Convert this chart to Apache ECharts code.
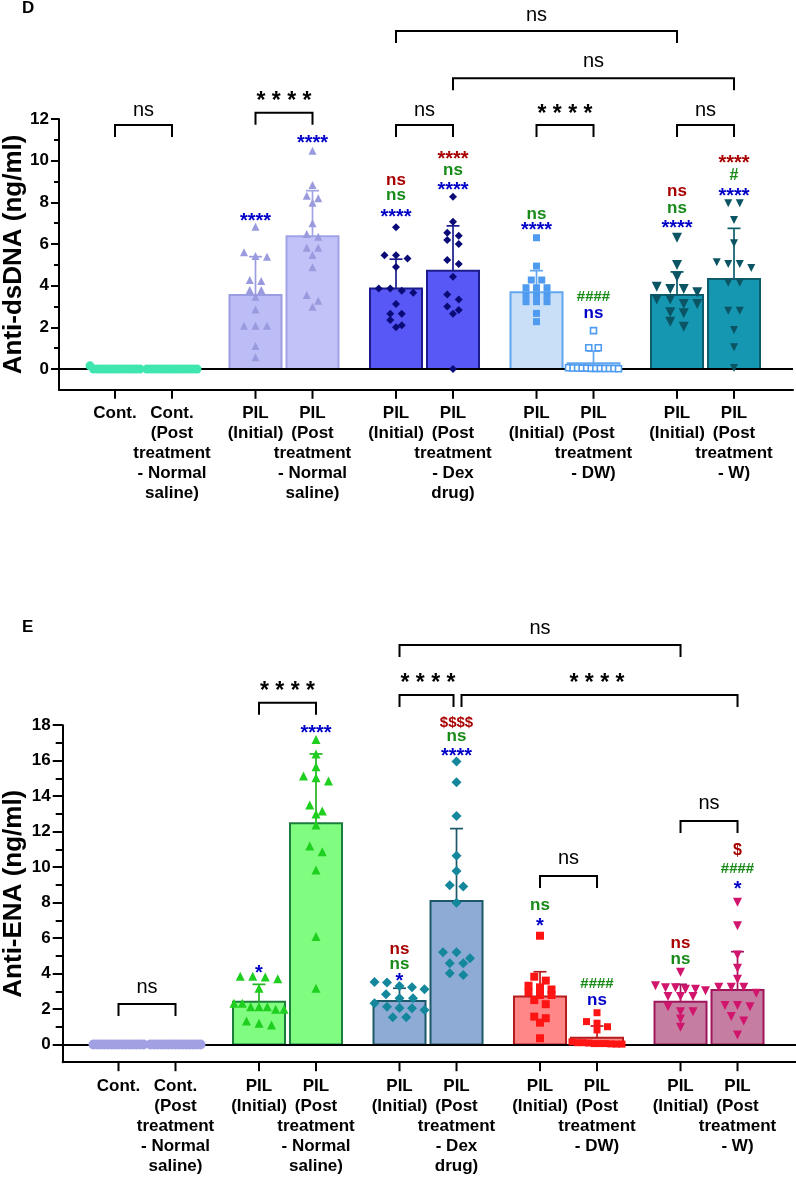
<!DOCTYPE html>
<html><head><meta charset="utf-8">
<script src="https://cdn.jsdelivr.net/npm/echarts@6/dist/echarts.min.js"></script>
<style>html,body{margin:0;padding:0;background:#fff}#c{width:796px;height:1178px}</style>
</head><body><div id="c"></div><script>
// ---------- DATA ----------
const categories = ['Cont.', 'Cont.\n(Post\ntreatment\n- Normal\nsaline)', 'PIL\n(Initial)', 'PIL\n(Post\ntreatment\n- Normal\nsaline)', 'PIL\n(Initial)', 'PIL\n(Post\ntreatment\n- Dex\ndrug)', 'PIL\n(Initial)', 'PIL\n(Post\ntreatment\n- DW)', 'PIL\n(Initial)', 'PIL\n(Post\ntreatment\n- W)'];

// Panel D: Anti-dsDNA
const dsdnaTicks = [0, 2, 4, 6, 8, 10, 12];
const dsdnaMinorTicks = [1, 3, 5, 7, 9, 11];
const dsdnaMean = [0, 0, 3.55, 6.37, 3.86, 4.72, 3.68, 0.27, 3.55, 4.32];
const dsdnaSD = [0, 0, 1.84, 2.19, 1.41, 2.15, 1.04, 0.59, 1.11, 2.43];
const dsdnaPoints = [
  [0.15, 0, 0, 0, 0, 0, 0, 0, 0, 0, 0, 0, 0, 0, 0],
  [0, 0, 0, 0, 0, 0, 0, 0, 0, 0, 0, 0, 0, 0, 0],
  [6.83, 5.6, 5.42, 5.39, 4.27, 4.22, 3.79, 3.79, 3.47, 2.86, 2.08, 2.08, 2.08, 1.10, 0.56],
  [10.48, 8.83, 8.32, 8.19, 7.98, 6.99, 6.48, 6.35, 5.82, 5.82, 5.47, 4.88, 3.55, 3.28, 2.99],
  [6.80, 5.46, 5.46, 5.3, 4.9, 3.86, 3.86, 3.75, 3.66, 3.12, 2.65, 2.65, 2.35, 2.10, 2.0],
  [8.27, 7.07, 6.54, 6.39, 6.19, 6.0, 5.23, 5.04, 4.43, 3.58, 3.34, 3.0, 2.83, 2.65, 0],
  [6.30, 4.94, 4.27, 4.27, 3.90, 3.90, 3.90, 3.55, 3.55, 3.55, 3.23, 3.23, 3.23, 2.67, 2.27],
  [1.84, 1.02, 1.02, 0.06, 0.05, 0.05, 0.04, 0.04, 0.03, 0.03, 0.03, 0.02, 0.02, 0.02, 0.01],
  [6.30, 4.99, 4.43, 3.95, 3.84, 3.84, 3.68, 3.34, 3.34, 3.12, 3.12, 2.72, 2.67, 2.27, 2.03],
  [7.95, 7.95, 7.15, 6.03, 5.12, 5.04, 5.04, 4.85, 4.14, 4.14, 2.80, 2.80, 1.87, 1.04, 0.05]
];
// per-bar marks: [bar, text, colour, level]
const dsdnaMarks = [
  [2, '****', 'b', 7.31],
  [3, '****', 'b', 11.03],
  [4, 'ns', 'r', 9.07], [4, 'ns', 'g', 8.32], [4, '****', 'b', 7.47],
  [5, '****', 'r', 10.27], [5, 'ns', 'g', 9.55], [5, '****', 'b', 8.79],
  [6, 'ns', 'g', 7.44], [6, '****', 'b', 6.87],
  [7, '####', 'g', 3.44], [7, 'ns', 'b', 2.67],
  [8, 'ns', 'r', 8.51], [8, 'ns', 'g', 7.71], [8, '****', 'b', 6.96],
  [9, '****', 'r', 10.07], [9, '#', 'g', 9.27], [9, '****', 'b', 8.48]
];
// brackets: [left bar, right bar, bracket level, label level, label]
const dsdnaBrackets = [
  [0, 1, 11.71, 12.43, 'ns'],
  [2, 3, 12.30, 13.07, '****'],
  [4, 5, 11.71, 12.43, 'ns'],
  [6, 7, 11.71, 12.43, '****'],
  [8, 9, 11.71, 12.43, 'ns'],
  [4, 8, 16.23, 16.99, 'ns'],
  [5, 9, 13.96, 14.75, 'ns']
];

// Panel E: Anti-ENA
const enaTicks = [0, 2, 4, 6, 8, 10, 12, 14, 16, 18];
const enaMinorTicks = [1, 3, 5, 7, 9, 11, 13, 15, 17];
const enaMean = [0, 0, 2.41, 12.47, 2.45, 8.09, 2.70, 0.38, 2.41, 3.07];
const enaSD = [0, 0, 0.98, 3.91, 0.72, 4.08, 1.40, 0.66, 0.98, 2.16];
const enaPoints = [
  [0, 0, 0, 0, 0, 0, 0, 0, 0, 0, 0, 0, 0, 0, 0],
  [0, 0, 0, 0, 0, 0, 0, 0, 0, 0, 0, 0, 0, 0, 0],
  [3.85, 3.8, 3.85, 3.7, 3.17, 2.32, 2.32, 2.13, 2.13, 2.13, 1.98, 1.98, 1.32, 1.19, 1.10],
  [17.2, 16.38, 15.66, 15.13, 15.04, 14.85, 13.5, 13.16, 12.99, 12.37, 11.19, 10.87, 9.84, 6.08, 3.17],
  [3.52, 3.5, 3.3, 3.22, 3.11, 2.83, 2.6, 2.6, 2.32, 2.13, 2.06, 2.04, 1.94, 1.53, 1.53],
  [15.96, 14.78, 12.88, 10.64, 9.78, 8.97, 8.9, 7.99, 5.2, 5.2, 4.86, 4.58, 4.58, 4.01, 3.92],
  [6.13, 3.82, 3.6, 3.31, 3.22, 3.1, 2.94, 2.79, 2.79, 2.5, 2.27, 1.57, 1.48, 1.23, 0.35],
  [1.79, 1.29, 1.2, 1.0, 0.82, 0.15, 0.1, 0.1, 0.08, 0.05, 0.05, 0.05, 0.03, 0.02, 0.02],
  [4.07, 3.31, 3.2, 3.2, 3.11, 3.11, 3.03, 2.7, 2.7, 2.7, 2.13, 1.85, 1.85, 1.44, 0.97],
  [8.02, 6.7, 5.05, 4.3, 3.67, 3.22, 3.22, 3.22, 2.89, 2.19, 2.19, 2.13, 1.57, 1.32, 0.54]
];
const enaMarks = [
  [2, '*', 'b', 4.24],
  [3, '****', 'b', 17.78],
  [4, 'ns', 'r', 5.38], [4, 'ns', 'g', 4.54], [4, '*', 'b', 3.79],
  [5, '$$$$', 'r', 18.11], [5, 'ns', 'g', 17.35], [5, '****', 'b', 16.47],
  [6, 'ns', 'g', 7.86], [6, '*', 'b', 6.92],
  [7, '####', 'g', 3.39], [7, 'ns', 'b', 2.47],
  [8, 'ns', 'r', 5.70], [8, 'ns', 'g', 4.80],
  [9, '$', 'r', 10.91], [9, '####', 'g', 9.88], [9, '*', 'b', 8.99]
];
const enaBrackets = [
  [0, 1, 2.28, 3.24, 'ns'],
  [2, 3, 19.27, 20.17, '****'],
  [4, 5, 19.70, 20.64, '****'],
  [4, 8, 22.52, 23.46, 'ns'],
  [5, 9, 19.70, 20.64, '****'],
  [6, 7, 9.50, 10.50, 'ns'],
  [8, 9, 12.60, 13.60, 'ns']
];

// ---------- STYLES / LAYOUT ----------
const FONT = 'Liberation Sans, Arial, Helvetica, sans-serif';
const markColors = { r: '#a80000', g: '#178a17', b: '#0000c8' };
const dsdnaStyles = [
  { pt: '#3fe6b0', sym: 'circle', size: 9 },
  { pt: '#3fe6b0', sym: 'circle', size: 9 },
  { fill: '#bcbcf7', stroke: '#9c9ce2', pt: '#9a9ade', sym: 'triangle', size: 8 },
  { fill: '#c2c2f9', stroke: '#a2a2e6', pt: '#9a9ade', sym: 'triangle', size: 8 },
  { fill: '#5858f6', stroke: '#1c1c8c', pt: '#0b0b78', sym: 'diamond', size: 8 },
  { fill: '#5858f6', stroke: '#1c1c8c', pt: '#0b0b78', sym: 'diamond', size: 8 },
  { fill: '#c9dff8', stroke: '#62a6f0', pt: '#4e9bf0', sym: 'rect', size: 7 },
  { fill: '#c9dff8', stroke: '#62a6f0', pt: '#4e9bf0', sym: 'rect', size: 6, hollow: true },
  { fill: '#1697b1', stroke: '#0c5c6c', pt: '#0a5464', sym: 'triangle', rot: 180, size: 10 },
  { fill: '#1697b1', stroke: '#0c5c6c', pt: '#0a5464', sym: 'triangle', rot: 180, size: 8 }
];
const enaStyles = [
  { pt: '#a0a0e2', sym: 'circle', size: 10 },
  { pt: '#a0a0e2', sym: 'circle', size: 10 },
  { fill: '#80fd80', stroke: '#1d7d3d', err: '#22b322', pt: '#1fcf1f', sym: 'triangle', size: 9 },
  { fill: '#80fd80', stroke: '#1d7d3d', err: '#22b322', pt: '#1fcf1f', sym: 'triangle', size: 9 },
  { fill: '#8eabd5', stroke: '#1b5868', pt: '#14879c', sym: 'diamond', size: 10 },
  { fill: '#8eabd5', stroke: '#1b5868', pt: '#14879c', sym: 'diamond', size: 10 },
  { fill: '#ff8787', stroke: '#b51c1c', pt: '#ff1414', sym: 'rect', size: 8 },
  { fill: '#ff8787', stroke: '#b51c1c', pt: '#ff1414', sym: 'rect', size: 7 },
  { fill: '#c57ea1', stroke: '#a0165c', pt: '#d1146c', sym: 'triangle', rot: 180, size: 9 },
  { fill: '#c57ea1', stroke: '#a0165c', pt: '#d1146c', sym: 'triangle', rot: 180, size: 9 }
];

const GROUP_STEP = 2.465;             // distance between pair starts, in bar spacings
const PX_PER_X = 57;                  // one bar spacing in pixels
const pos = categories.map((c, i) => Math.floor(i / 2) * GROUP_STEP + (i % 2));

const panels = [
  { letter: 'D', title: 'Anti-dsDNA (ng/ml)', ticks: dsdnaTicks, minor: dsdnaMinorTicks, mean: dsdnaMean, sd: dsdnaSD,
    pts: dsdnaPoints, marks: dsdnaMarks, brackets: dsdnaBrackets, styles: dsdnaStyles,
    grid: { left: 59, right: 3, top: 119, height: 270.8 }, firstX: 115, tickLen: 8, minorLen: 5, labelMargin: 10,
    letterPos: [22, 0] },
  { letter: 'E', title: 'Anti-ENA (ng/ml)', ticks: enaTicks, minor: enaMinorTicks, mean: enaMean, sd: enaSD,
    pts: enaPoints, marks: enaMarks, brackets: enaBrackets, styles: enaStyles,
    grid: { left: 62.7, right: 0, top: 725.2, height: 337 }, firstX: 118.5, tickLen: 10, minorLen: 7, labelMargin: 12,
    letterPos: [22, 619] }
];

function swarm(vals, sizePx, unitPx) {
  const idx = vals.map((v, i) => i).sort((a, b) => vals[b] - vals[a] || a - b);
  const rows = [];
  const thr = sizePx * 0.75 / unitPx;
  idx.forEach(i => {
    const r = rows[rows.length - 1];
    if (r && vals[r[0]] - vals[i] < thr) r.push(i); else rows.push([i]);
  });
  const off = new Array(vals.length).fill(0);
  const spacing = sizePx + 3.5;
  rows.forEach(r => {
    const n = r.length;
    if (n < 2) return;
    const s = Math.min(spacing, 50 / (n - 1));
    r.forEach((i, j) => { off[i] = (j - (n - 1) / 2) * s; });
  });
  return off;
}

function isStars(t) { return /^[*\s]+$/.test(t); }

const grids = [], xAxes = [], yAxes = [], series = [], graphics = [];
panels.forEach((p, pi) => {
  const W = 796 - p.grid.left - p.grid.right;
  const xMin = (p.grid.left - p.firstX) / PX_PER_X;
  const xMax = xMin + W / PX_PER_X;
  const yMin = -1, yMax = p.ticks[p.ticks.length - 1];
  const unitPx = p.grid.height / (yMax - yMin);
  grids.push({ left: p.grid.left, right: p.grid.right, top: p.grid.top, height: p.grid.height, outerBoundsMode: 'none', containLabel: false });
  xAxes.push({
    type: 'value', gridIndex: pi, min: xMin, max: xMax,
    axisLine: { show: true, onZero: false, lineStyle: { color: '#000', width: 2 } },
    axisTick: { show: false },
    axisLabel: { show: false },
    splitLine: { show: false }
  });
  yAxes.push({
    type: 'value', gridIndex: pi, min: yMin, max: yMax, position: 'left',
    axisLine: { show: true, onZero: false, lineStyle: { color: '#000', width: 2 } },
    axisTick: { show: true, customValues: p.ticks, length: p.tickLen, lineStyle: { color: '#000', width: 2 } },
    axisLabel: { show: true, customValues: p.ticks, margin: p.labelMargin, color: '#000', fontSize: 17, fontWeight: 'bold', fontFamily: FONT },
    splitLine: { show: false }
  });
  yAxes.push({
    type: 'value', gridIndex: pi, min: yMin, max: yMax, position: 'left',
    axisLine: { show: false, onZero: false },
    axisTick: { show: true, customValues: p.minor, length: p.minorLen, lineStyle: { color: '#000', width: 2 } },
    axisLabel: { show: false },
    splitLine: { show: false }
  });
  const xi = pi, yi = pi * 2;

  // bars + error bars
  series.push({
    type: 'custom', xAxisIndex: xi, yAxisIndex: yi, z: 2, silent: true,
    data: pos.map((x, i) => [x, p.mean[i], p.sd[i]]),
    renderItem: (params, api) => {
      const st = p.styles[params.dataIndex];
      const x = api.value(0), m = api.value(1), s = api.value(2);
      const b = api.coord([x, 0]), t = api.coord([x, m]), e = api.coord([x, m + s]);
      const ch = [];
      if (m > 0) ch.push({ type: 'rect', shape: { x: b[0] - 26, y: t[1], width: 52, height: b[1] - t[1] },
        style: { fill: st.fill, stroke: st.stroke, lineWidth: 2 } });
      if (s > 0) {
        const c = st.err || st.stroke;
        ch.push({ type: 'line', shape: { x1: t[0], y1: t[1], x2: e[0], y2: e[1] }, style: { stroke: c, lineWidth: 1.7 } });
        ch.push({ type: 'line', shape: { x1: e[0] - 6.5, y1: e[1], x2: e[0] + 6.5, y2: e[1] }, style: { stroke: c, lineWidth: 1.7 } });
      }
      return { type: 'group', children: ch };
    }
  });
  // category ticks + labels under the x axis
  series.push({
    type: 'custom', xAxisIndex: xi, yAxisIndex: yi, z: 6, silent: true, clip: false,
    data: pos.map(x => [x, yMin]),
    renderItem: (params, api) => {
      const c = api.coord([api.value(0), api.value(1)]);
      return { type: 'group', children: [
        { type: 'line', shape: { x1: c[0], y1: c[1], x2: c[0], y2: c[1] + 9 }, style: { stroke: '#000', lineWidth: 2 } },
        { type: 'text', x: c[0], y: c[1] + 14, style: { text: categories[params.dataIndex], fill: '#000', fontSize: 17,
          fontWeight: 'bold', fontFamily: FONT, lineHeight: 20, align: 'center', verticalAlign: 'top' } }
      ] };
    }
  });
  // zero line
  series.push({
    type: 'scatter', xAxisIndex: xi, yAxisIndex: yi, z: 3, data: [], silent: true,
    markLine: { symbol: 'none', silent: true, label: { show: false }, animation: false,
      lineStyle: { color: '#000', width: 2, type: 'solid' }, data: [{ yAxis: 0 }] }
  });
  // points
  p.pts.forEach((vals, gi) => {
    const st = p.styles[gi];
    const off = swarm(vals, st.size, unitPx);
    series.push({
      type: 'scatter', xAxisIndex: xi, yAxisIndex: yi, z: 5, silent: true, clip: false,
      symbol: st.sym, symbolSize: st.size, symbolRotate: st.rot || 0,
      itemStyle: st.hollow ? { color: '#ffffff', borderColor: st.pt, borderWidth: 1.6, opacity: 1 }
                           : { color: st.pt, opacity: 1 },
      data: vals.map((v, k) => [pos[gi] + off[k] / PX_PER_X, v])
    });
  });
  // brackets
  series.push({
    type: 'custom', xAxisIndex: xi, yAxisIndex: yi, z: 6, silent: true, clip: false,
    data: p.brackets.map(b => [(pos[b[0]] + pos[b[1]]) / 2, b[2]]),
    renderItem: (params, api) => {
      const b = p.brackets[params.dataIndex];
      const L = api.coord([pos[b[0]], b[2]]), R = api.coord([pos[b[1]], b[2]]);
      const T = api.coord([(pos[b[0]] + pos[b[1]]) / 2, b[3]]);
      // shrink where two brackets share an end at the same level
      let l = L[0], r = R[0];
      p.brackets.forEach((o, oi) => {
        if (oi === params.dataIndex || Math.abs(o[2] - b[2]) > 0.05) return;
        if (o[1] === b[0]) l += 5;
        if (o[0] === b[1]) r -= 3;
      });
      const y = L[1], leg = 12;
      const stars = isStars(b[4]);
      const txt = stars ? b[4].split('').join(' ') : b[4];
      const fs = stars ? 23 : 20;
      return { type: 'group', children: [
        { type: 'polyline', shape: { points: [[l, y + leg], [l, y], [r, y], [r, y + leg]] }, style: { stroke: '#000', lineWidth: 2, fill: null } },
        { type: 'text', x: T[0], y: T[1] + (stars ? fs * 0.22 : 0), style: { text: txt, fill: '#000', fontSize: fs,
          fontWeight: stars ? 'bold' : 'normal', fontFamily: FONT, align: 'center', verticalAlign: 'middle' } }
      ] };
    }
  });
  // per-bar significance marks
  series.push({
    type: 'custom', xAxisIndex: xi, yAxisIndex: yi, z: 6, silent: true, clip: false,
    data: p.marks.map(m => [pos[m[0]], m[3]]),
    renderItem: (params, api) => {
      const m = p.marks[params.dataIndex];
      const c = api.coord([pos[m[0]], m[3]]);
      const t = m[1];
      let fs = 17;
      if (isStars(t)) fs = 20; else if (/#|\$/.test(t)) fs = (t.length === 1 ? 16 : 15);
      return { type: 'text', x: c[0], y: c[1] + (isStars(t) ? fs * 0.22 : 0), style: { text: t, fill: markColors[m[2]], fontSize: fs,
        fontWeight: 'bold', fontFamily: FONT, align: 'center', verticalAlign: 'middle' } };
    }
  });
  // panel letter + y title
  graphics.push({ type: 'text', left: p.letterPos[0], top: p.letterPos[1], style: { text: p.letter, fill: '#000', font: 'bold 17px ' + FONT } });
  graphics.push({ type: 'text', x: 14, y: p.grid.top + p.grid.height / 2, rotation: Math.PI / 2,
    style: { text: p.title, fill: '#000', fontSize: 26, fontWeight: 'bold', fontFamily: FONT, align: 'center', verticalAlign: 'middle' } });
});

const chart = echarts.init(document.getElementById('c'));
chart.setOption({
  animation: false,
  backgroundColor: '#fff',
  grid: grids, xAxis: xAxes, yAxis: yAxes, series: series, graphic: graphics
});
</script></body></html>
